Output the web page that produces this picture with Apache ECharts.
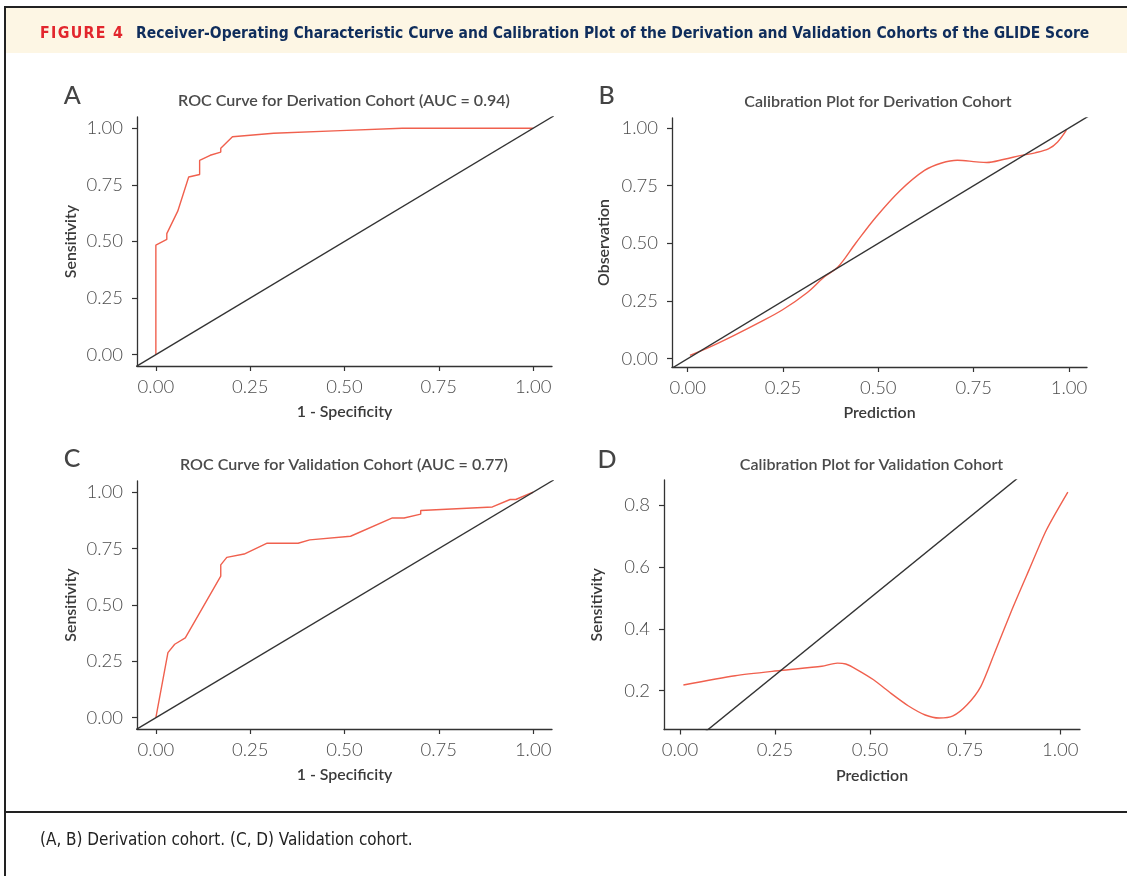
<!DOCTYPE html>
<html><head><meta charset="utf-8">
<script src="https://cdn.jsdelivr.net/npm/echarts@6/dist/echarts.min.js"></script>
<style>html,body{margin:0;padding:0;background:#fff}#c{width:1127px;height:876px}</style>
</head><body><div id="c"></div>
<script>
// ---------- data ----------
const rocDerivFpr = [0, 0, 0.029, 0.029, 0.058, 0.087, 0.116, 0.116, 0.144, 0.172, 0.172, 0.203, 0.312, 0.489, 0.653, 1.0];
const rocDerivTpr = [0, 0.484, 0.509, 0.535, 0.634, 0.785, 0.796, 0.858, 0.881, 0.895, 0.912, 0.963, 0.978, 0.990, 1.0, 1.0];

const rocValidFpr = [0, 0.032, 0.050, 0.078, 0.172, 0.172, 0.188, 0.234, 0.295, 0.377, 0.408, 0.516, 0.627, 0.658, 0.702, 0.702, 0.892, 0.939, 0.954, 0.995, 1.0];
const rocValidTpr = [0, 0.289, 0.326, 0.354, 0.628, 0.678, 0.711, 0.726, 0.774, 0.774, 0.789, 0.805, 0.886, 0.886, 0.903, 0.919, 0.935, 0.968, 0.968, 0.997, 1.0];

const calDerivPred = [0.006, 0.059, 0.122, 0.186, 0.249, 0.313, 0.358, 0.394, 0.440, 0.494, 0.558, 0.621, 0.666, 0.707, 0.757, 0.784, 0.830, 0.875, 0.911, 0.947, 0.970, 0.993];
const calDerivObs  = [0.014, 0.051, 0.101, 0.155, 0.212, 0.286, 0.354, 0.397, 0.499, 0.614, 0.730, 0.816, 0.848, 0.860, 0.853, 0.850, 0.864, 0.881, 0.892, 0.910, 0.939, 0.990];

const calValidPred = [0.009, 0.145, 0.264, 0.373, 0.414, 0.436, 0.464, 0.509, 0.555, 0.600, 0.645, 0.682, 0.718, 0.755, 0.791, 0.827, 0.873, 0.918, 0.964, 1.020];
const calValidObs  = [0.218, 0.248, 0.265, 0.279, 0.289, 0.286, 0.269, 0.235, 0.191, 0.151, 0.121, 0.111, 0.118, 0.154, 0.213, 0.321, 0.462, 0.591, 0.721, 0.843];

// identity reference line y = x (clipped to each panel)
const refLine = [-0.2, 1.2];

const unitTicks = [0, 0.25, 0.5, 0.75, 1];
const unitTickLabels = ['0.00', '0.25', '0.50', '0.75', '1.00'];
const dYTicks = [0.2, 0.4, 0.6, 0.8];
const dYTickLabels = ['0.2', '0.4', '0.6', '0.8'];

const headlineLabel = 'FIGURE 4';
const headlineText = 'Receiver-Operating Characteristic Curve and Calibration Plot of the Derivation and Validation Cohorts of the GLIDE Score';
const captionText = '(A, B) Derivation cohort. (C, D) Validation cohort.';
const panelLetters = ['A', 'B', 'C', 'D'];
const panelTitles = ['ROC Curve for Derivation Cohort (AUC = 0.94)', 'Calibration Plot for Derivation Cohort',
                     'ROC Curve for Validation Cohort (AUC = 0.77)', 'Calibration Plot for Validation Cohort'];
const xNames = ['1 - Specificity', 'Prediction', '1 - Specificity', 'Prediction'];
const yNames = ['Sensitivity', 'Observation', 'Sensitivity', 'Sensitivity'];

// ---------- styling helpers ----------
const HEAD_FONT = '"Liberation Sans Narrow","DejaVu Sans Condensed","Noto Sans",sans-serif';
const PANEL_FONT = 'Lato,"Open Sans","Noto Sans",sans-serif';
const cv = document.createElement('canvas').getContext('2d');
function fit(text, weight, family, target) {
  cv.font = weight + ' 100px ' + family;
  return 100 * target / cv.measureText(text).width;
}
function tw(text, weight, size, family) {
  cv.font = weight + ' ' + size + 'px ' + family;
  return cv.measureText(text).width;
}
const tickSize = fit('0.00', 300, PANEL_FONT, 36.5);
const titleSize = fit(panelTitles[0], 600, PANEL_FONT, 332);
const nameSize = fit('1 - Specificity', 600, PANEL_FONT, 95.7);
const headSize = fit(headlineText, 700, HEAD_FONT, 954);
const capSize = fit(captionText, 400, HEAD_FONT, 373);

const AX = '#333333', RED = '#f0604e', TXT = '#4d4d4d';

const grids = [
  {left: 137, top: 117, width: 415, height: 249},
  {left: 672, top: 118, width: 415, height: 249},
  {left: 137, top: 481, width: 415, height: 248},
  {left: 664, top: 480, width: 416, height: 249.5}
];
const xr = [[-0.05, 1.05], [-0.041, 1.047], [-0.05, 1.05], [-0.042, 1.052]];
const yr = [[-0.05, 1.05], [-0.036, 1.043], [-0.05, 1.05], [0.074, 0.882]];
const yGaps = [58, 60, 58, 59];

function lab(vals, labels) {
  return v => { for (let i = 0; i < vals.length; i++) if (Math.abs(vals[i] - v) < 1e-9) return labels[i]; return ''; };
}
function axis(kind, i) {
  const isX = kind === 'x';
  const vals = (!isX && i === 3) ? dYTicks : unitTicks;
  const labels = (!isX && i === 3) ? dYTickLabels : unitTickLabels;
  const r = isX ? xr[i] : yr[i];
  return {
    type: 'value', gridIndex: i, min: r[0], max: r[1],
    axisLine: {show: true, onZero: false, lineStyle: {color: AX, width: 1.3}},
    axisTick: {show: true, length: 5, customValues: vals, lineStyle: {color: AX, width: 1.2}},
    axisLabel: {customValues: vals, formatter: lab(vals, labels), color: TXT, fontSize: tickSize,
                fontFamily: PANEL_FONT, fontWeight: 300, margin: isX ? 12 : 14},
    splitLine: {show: false},
    name: isX ? xNames[i] : yNames[i], nameLocation: 'middle', nameGap: isX ? 38 : yGaps[i],
    nameRotate: isX ? 0 : 90,
    nameTextStyle: {color: '#3a3a3a', fontSize: nameSize, fontFamily: PANEL_FONT, fontWeight: 600}
  };
}
function zip(a, b) { return a.map((v, k) => [v, b[k]]); }
function lineSeries(i, data, color, smooth) {
  return {type: 'line', xAxisIndex: i, yAxisIndex: i, data: data, showSymbol: false, symbol: 'none',
          smooth: smooth || false, clip: true, silent: true, animation: false,
          lineStyle: {color: color, width: 1.4}};
}
const refData = zip(refLine, refLine);
const series = [
  lineSeries(0, zip(rocDerivFpr, rocDerivTpr), RED), lineSeries(0, refData, AX),
  lineSeries(1, zip(calDerivPred, calDerivObs), RED, 0.35), lineSeries(1, refData, AX),
  lineSeries(2, zip(rocValidFpr, rocValidTpr), RED), lineSeries(2, refData, AX),
  lineSeries(3, zip(calValidPred, calValidObs), RED, 0.25), lineSeries(3, refData, AX)
];

// ---------- frame / texts ----------
const graphic = [
  {type: 'rect', shape: {x: 5, y: 8, width: 1122, height: 45}, style: {fill: '#fdf6e4'}, silent: true},
  {type: 'line', shape: {x1: 4, y1: 7, x2: 1127, y2: 7}, style: {stroke: '#222', lineWidth: 2}, silent: true},
  {type: 'line', shape: {x1: 5, y1: 7, x2: 5, y2: 876}, style: {stroke: '#222', lineWidth: 2}, silent: true},
  {type: 'line', shape: {x1: 4, y1: 812, x2: 1127, y2: 812}, style: {stroke: '#222', lineWidth: 2}, silent: true}
];
// letter-spaced "FIGURE 4"
(function () {
  const chars = headlineLabel.split('');
  const s = headSize * 1.02;
  const ws = chars.map(c => tw(c, 700, s, HEAD_FONT));
  const sum = ws.reduce((a, b) => a + b, 0);
  const sp = Math.max(0, (83 - sum) / (chars.length - 1));
  let x = 40;
  chars.forEach((c, k) => {
    graphic.push({type: 'text', silent: true, style: {text: c, x: x, y: 33.5, fontSize: s, fontWeight: 700,
      fontFamily: HEAD_FONT, fill: '#e2262d', textAlign: 'left', align: 'left', textVerticalAlign: 'middle', verticalAlign: 'middle'}});
    x += ws[k] + sp;
  });
})();
graphic.push({type: 'text', silent: true, style: {text: headlineText, x: 136, y: 33.5, fontSize: headSize, fontWeight: 700,
  fontFamily: HEAD_FONT, fill: '#0f2d5c', textAlign: 'left', align: 'left', textVerticalAlign: 'middle', verticalAlign: 'middle'}});
graphic.push({type: 'text', silent: true, style: {text: captionText, x: 40, y: 841, fontSize: capSize, fontWeight: 400,
  fontFamily: HEAD_FONT, fill: '#222', textAlign: 'left', align: 'left', textVerticalAlign: 'middle', verticalAlign: 'middle'}});

const letterPos = [[72.3, 96], [606.7, 96], [72, 458.7], [607, 459.5]];
const titlePos = [[344, 100.5], [878, 101.5], [344, 464.5], [871.5, 465]];
panelLetters.forEach((L, i) => {
  graphic.push({type: 'text', silent: true, style: {text: L, x: letterPos[i][0], y: letterPos[i][1], fontSize: 25, fontWeight: 500,
    fontFamily: PANEL_FONT, fill: '#444', textAlign: 'center', align: 'center', textVerticalAlign: 'middle', verticalAlign: 'middle'}});
  graphic.push({type: 'text', silent: true, style: {text: panelTitles[i], x: titlePos[i][0], y: titlePos[i][1], fontSize: titleSize, fontWeight: 600,
    fontFamily: PANEL_FONT, fill: '#4a4a4a', textAlign: 'center', align: 'center', textVerticalAlign: 'middle', verticalAlign: 'middle'}});
});

const chart = echarts.init(document.getElementById('c'), null, {renderer: 'canvas', width: 1127, height: 876});
chart.setOption({
  backgroundColor: '#ffffff',
  animation: false,
  grid: grids,
  xAxis: [0, 1, 2, 3].map(i => axis('x', i)),
  yAxis: [0, 1, 2, 3].map(i => axis('y', i)),
  series: series,
  graphic: graphic
});
</script></body></html>
